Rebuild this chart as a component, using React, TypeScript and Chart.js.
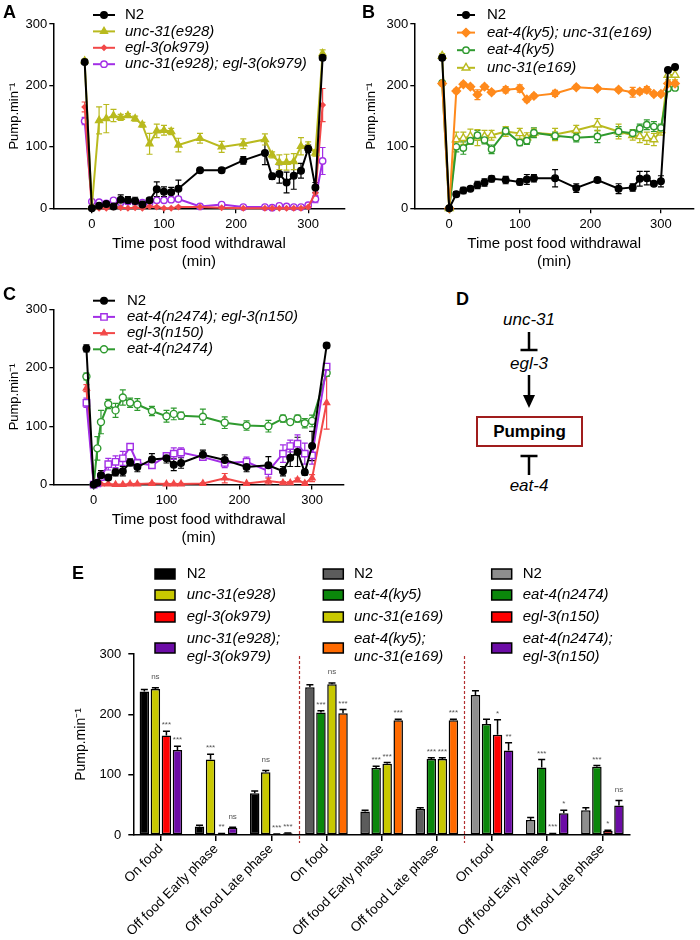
import React, { useEffect, useRef } from 'react';
import { Chart, registerables } from 'chart.js';

Chart.register(...registerables);

const FONT = "'Liberation Sans', Arial, Helvetica, sans-serif";
Chart.defaults.font.family = FONT;

// ---------------- Panel A ----------------
const timesA = [-10, 0, 10, 20, 30, 40, 50, 60, 70, 80, 90, 100, 110, 120, 150, 180, 210, 240, 250, 260, 270, 280, 290, 300, 310, 320];
const n2A = [238, 0, 4, 7, 3, 14, 13, 12, 6, 13, 31, 27, 26, 32, 62, 62, 78, 90, 52, 56, 42, 53, 61, 97, 34, 245];
const n2AErr = [3, 1, 2, 2, 2, 8, 6, 6, 3, 4, 12, 8, 8, 14, 3, 4, 6, 19, 5, 15, 17, 22, 12, 6, 8, 4];
const unc31A = [240, 3, 143, 146, 151, 148, 151, 146, 136, 105, 126, 127, 125, 103, 114, 100, 105, 112, 87, 75, 75, 76, 101, 101, 90, 252];
const unc31AErr = [3, 2, 22, 23, 10, 5, 3, 4, 4, 17, 11, 8, 5, 11, 8, 9, 8, 9, 5, 12, 13, 13, 14, 7, 5, 6];
const egl3A = [165, 0, 0, 0, 2, 1, 0, 1, 0, 3, 2, 0, 0, 2, 2, 1, 0, 0, 0, 0, 0, 0, 0, 2, 25, 168];
const egl3AErr = [8, 0, 0, 0, 1, 1, 0, 1, 0, 1, 1, 0, 0, 1, 1, 1, 0, 0, 0, 0, 0, 0, 0, 1, 6, 27];
const dblA = [142, 11, 10, 8, 13, 10, 11, 11, 9, 9, 13, 13, 14, 15, 3, 6, 2, 2, 1, 4, 3, 2, 2, 5, 15, 77];
const dblAErr = [6, 2, 2, 2, 2, 2, 2, 2, 2, 2, 2, 2, 2, 2, 1, 1, 1, 1, 1, 1, 1, 1, 1, 2, 6, 22];

// ---------------- Panel B ----------------
const timesB = [-10, 0, 10, 20, 30, 40, 50, 60, 80, 100, 110, 120, 150, 180, 210, 240, 260, 270, 280, 290, 300, 310, 320];
const n2B = [245, 0, 23, 29, 32, 38, 42, 48, 46, 43, 47, 49, 49, 33, 46, 32, 34, 48, 49, 40, 44, 225, 230];
const n2BErr = [4, 1, 4, 5, 3, 6, 6, 5, 6, 5, 8, 6, 14, 7, 4, 8, 6, 12, 11, 3, 9, 3, 3];
const dblB = [203, 0, 191, 202, 198, 185, 198, 189, 193, 195, 177, 183, 187, 197, 195, 193, 189, 190, 193, 186, 186, 203, 203];
const dblBErr = [3, 1, 3, 3, 3, 8, 3, 3, 5, 6, 4, 3, 5, 3, 3, 3, 8, 4, 5, 3, 3, 3, 3];
const eat4B = [204, 0, 100, 98, 110, 119, 111, 96, 126, 107, 110, 123, 118, 115, 117, 125, 122, 130, 136, 133, 131, 195, 196];
const eat4BErr = [3, 1, 8, 10, 6, 8, 6, 7, 6, 5, 6, 8, 6, 7, 10, 8, 6, 7, 8, 8, 6, 4, 4];
const unc31B = [248, 0, 112, 114, 117, 115, 117, 119, 125, 122, 115, 123, 120, 127, 136, 125, 119, 117, 114, 112, 127, 217, 217];
const unc31BErr = [4, 1, 12, 10, 12, 13, 10, 8, 8, 8, 8, 6, 10, 8, 10, 12, 8, 10, 10, 10, 8, 8, 8];

// ---------------- Panel C ----------------
const timesC = [-10, 0, 5, 10, 20, 30, 40, 50, 60, 80, 100, 110, 120, 150, 180, 210, 240, 260, 270, 280, 290, 300, 320];
const n2C = [233, 0, 3, 16, 12, 21, 23, 38, 30, 43, 45, 34, 37, 51, 42, 30, 33, 23, 46, 56, 21, 66, 238];
const n2CErr = [6, 1, 2, 8, 4, 6, 8, 6, 8, 10, 8, 10, 9, 8, 9, 8, 15, 8, 15, 25, 5, 25, 4];
const dblC = [140, 0, 2, 13, 35, 39, 45, 65, 37, 33, 49, 53, 55, 47, 37, 39, 23, 53, 66, 70, 53, 50, 202];
const dblCErr = [8, 1, 1, 5, 10, 10, 12, 5, 6, 5, 5, 10, 8, 5, 8, 8, 10, 15, 10, 15, 18, 15, 5];
const egl3C = [165, 0, 0, 1, 1, 0, 0, 1, 1, 2, 1, 1, 1, 2, 11, 2, 6, 3, 3, 8, 2, 11, 140];
const egl3CErr = [6, 0, 0, 1, 1, 0, 0, 1, 1, 1, 1, 1, 1, 1, 8, 1, 5, 2, 2, 3, 1, 6, 45];
const eat4C = [185, 0, 62, 107, 138, 127, 149, 140, 137, 126, 117, 121, 118, 116, 106, 101, 100, 113, 107, 113, 105, 109, 191];
const eat4CErr = [6, 1, 20, 20, 8, 12, 13, 8, 10, 8, 10, 10, 6, 13, 10, 8, 10, 6, 4, 6, 8, 10, 6];

const xTickValues = [0, 100, 200, 300];
const yTitle = 'Pump.min⁻¹';
const xTitle = ['Time post food withdrawal', '(min)'];

// ---------------- Panel E ----------------
const categoriesE = [
  'On food', 'Off food Early phase', 'Off food Late phase',
  'On food', 'Off food Early phase', 'Off food Late phase',
  'On food', 'Off food Early phase', 'Off food Late phase',
];
const e1Values = [238, 14, 69, 245, 39, 43, 232, 25, 41];
const e1Errors = [3, 2, 4, 4, 2, 2, 7, 4, 4];
const e1Sig = ['', '', '', '', '', '', '', '', ''];
const e2Values = [242, 125, 104, 203, 111, 126, 184, 112, 113];
const e2Errors = [2, 9, 3, 3, 3, 2, 8, 13, 2];
const e2Sig = ['ns', '***', 'ns', '***', '***', '***', '', '***', '***'];
const e3Values = [165, 2, 1, 250, 118, 126, 166, 2, 7];
const e3Errors = [7, 0.5, 0.5, 2, 2, 2, 25, 0.5, 1];
const e3Sig = ['***', '**', '***', 'ns', '***', '***', '*', '***', '*'];
const e4Values = [141, 12, 3, 202, 190, 190, 140, 36, 49];
const e4Errors = [6, 1, 0.5, 6, 2, 2, 13, 5, 8];
const e4Sig = ['***', 'ns', '***', '***', '***', '***', '**', '*', 'ns'];

const legendE1 = ['N2', 'unc-31(e928)', 'egl-3(ok979)', ['unc-31(e928);', 'egl-3(ok979)']];
const legendE2 = ['N2', 'eat-4(ky5)', 'unc-31(e169)', ['eat-4(ky5);', 'unc-31(e169)']];
const legendE3 = ['N2', 'eat-4(n2474)', 'egl-3(n150)', ['eat-4(n2474);', 'egl-3(n150)']];

// colours
const C_BLACK = '#000000';
const C_YEL = '#b9ba1e';
const C_RED = '#f24848';
const C_PUR = '#a22ee6';
const C_ORA = '#ff8a1c';
const C_GRN = '#2f9a2f';

const paletteE1 = ['#000000', '#c8c800', '#ff0000', '#6c0ca6'];
const paletteE2 = ['#5c5c5c', '#0b870b', '#c8c800', '#ff6a00'];
const paletteE3 = ['#8e8e8e', '#0b870b', '#ff0000', '#6c0ca6'];

// ---------------- helpers ----------------
function drawMarker(ctx: CanvasRenderingContext2D, style: string, x: number, y: number, r: number, fill: string, stroke: string, lw: number) {
  ctx.save();
  ctx.beginPath();
  if (style === 'circle') {
    ctx.arc(x, y, r, 0, Math.PI * 2);
  } else if (style === 'triangle') {
    ctx.moveTo(x, y - r);
    ctx.lineTo(x + 0.866 * r, y + 0.5 * r);
    ctx.lineTo(x - 0.866 * r, y + 0.5 * r);
    ctx.closePath();
  } else if (style === 'rectRot') {
    ctx.moveTo(x, y - r);
    ctx.lineTo(x + r, y);
    ctx.lineTo(x, y + r);
    ctx.lineTo(x - r, y);
    ctx.closePath();
  } else {
    const s = r * Math.SQRT1_2;
    ctx.rect(x - s, y - s, 2 * s, 2 * s);
  }
  ctx.fillStyle = fill;
  ctx.fill();
  ctx.strokeStyle = stroke;
  ctx.lineWidth = lw;
  ctx.stroke();
  ctx.restore();
}

const lineErrorBars = {
  id: 'lineErrorBars',
  beforeDatasetsDraw(chart: any) {
    const ctx = chart.ctx;
    const ys = chart.scales.y;
    chart.data.datasets.forEach((ds: any, di: number) => {
      const errs: number[] = ds.errors;
      if (!errs) return;
      const meta = chart.getDatasetMeta(di);
      ctx.save();
      ctx.strokeStyle = ds.borderColor;
      ctx.lineWidth = 1.2;
      meta.data.forEach((pt: any, i: number) => {
        const e = errs[i];
        if (!e) return;
        const v = ds.data[i].y;
        const yt = ys.getPixelForValue(v + e);
        const yb = ys.getPixelForValue(Math.max(0, v - e));
        ctx.beginPath();
        ctx.moveTo(pt.x, yt);
        ctx.lineTo(pt.x, yb);
        ctx.moveTo(pt.x - 3, yt);
        ctx.lineTo(pt.x + 3, yt);
        ctx.moveTo(pt.x - 3, yb);
        ctx.lineTo(pt.x + 3, yb);
        ctx.stroke();
      });
      ctx.restore();
    });
  },
};

type LegendPos = { x0: number; x1: number; tx: number; y0: number; rowH: number };

function makeSeriesLegend(pos: LegendPos) {
  return {
    id: 'seriesLegend',
    afterDraw(chart: any) {
      const ctx = chart.ctx;
      chart.data.datasets.forEach((ds: any, i: number) => {
        const y = pos.y0 + i * pos.rowH;
        ctx.save();
        ctx.strokeStyle = ds.borderColor;
        ctx.lineWidth = 2;
        ctx.beginPath();
        ctx.moveTo(pos.x0, y);
        ctx.lineTo(pos.x1, y);
        ctx.stroke();
        drawMarker(ctx, ds.pointStyle, (pos.x0 + pos.x1) / 2, y, ds.pointRadius, ds.pointBackgroundColor, ds.borderColor, ds.pointBorderWidth);
        ctx.fillStyle = '#000';
        ctx.font = `${ds.label === 'N2' ? '' : 'italic '}15px ${FONT}`;
        ctx.textBaseline = 'middle';
        ctx.textAlign = 'left';
        ctx.fillText(ds.label, pos.tx, y);
        ctx.restore();
      });
    },
  };
}

type SeriesDef = {
  label: string; times: number[]; values: number[]; errors: number[];
  color: string; point: string; radius: number; hollow: boolean;
};

type LineLayout = {
  xmin: number; xmax: number; top: number; right: number; yw: number; xh: number;
  xtPad: number; ytPad: number; legend: LegendPos;
};

function buildLineConfig(series: SeriesDef[], L: LineLayout): any {
  const tickFont = { family: FONT, size: 13 };
  return {
    type: 'line',
    data: {
      datasets: series.map((s) => ({
        label: s.label,
        data: s.times.map((t, i) => ({ x: t, y: s.values[i] })),
        errors: s.errors,
        borderColor: s.color,
        backgroundColor: s.color,
        pointBackgroundColor: s.hollow ? '#ffffff' : s.color,
        pointBorderColor: s.color,
        pointStyle: s.point,
        pointRadius: s.radius,
        pointBorderWidth: 1.4,
        borderWidth: 2,
        tension: 0,
        clip: false,
      })),
    },
    options: {
      animation: false,
      responsive: false,
      maintainAspectRatio: false,
      layout: { padding: { left: 0, top: L.top, right: L.right, bottom: 0 } },
      plugins: { legend: { display: false }, tooltip: { enabled: false } },
      scales: {
        x: {
          type: 'linear',
          min: L.xmin,
          max: L.xmax,
          afterBuildTicks: (s: any) => { s.ticks = xTickValues.map((v) => ({ value: v })); },
          afterFit: (s: any) => { s.height = L.xh; },
          grid: { drawOnChartArea: false, tickLength: 5, color: '#000', lineWidth: 1.3 },
          border: { color: '#000', width: 1.5 },
          ticks: { color: '#000', font: tickFont, padding: 3, maxRotation: 0 },
          title: { display: true, text: xTitle, color: '#000', font: { family: FONT, size: 15 }, padding: { top: 0, bottom: L.xtPad } },
        },
        y: {
          min: 0,
          max: 300,
          afterFit: (s: any) => { s.width = L.yw; },
          grid: { drawOnChartArea: false, tickLength: 4, color: '#000', lineWidth: 1.3 },
          border: { color: '#000', width: 1.5 },
          ticks: { stepSize: 100, color: '#000', font: tickFont, padding: 2 },
          title: { display: true, text: yTitle, color: '#000', font: { family: FONT, size: 13 }, padding: { top: L.ytPad, bottom: 0 } },
        },
      },
    },
    plugins: [lineErrorBars, makeSeriesLegend(L.legend)],
  };
}

function configA() {
  return buildLineConfig(
    [
      { label: 'N2', times: timesA, values: n2A, errors: n2AErr, color: C_BLACK, point: 'circle', radius: 3.3, hollow: false },
      { label: 'unc-31(e928)', times: timesA, values: unc31A, errors: unc31AErr, color: C_YEL, point: 'triangle', radius: 4, hollow: false },
      { label: 'egl-3(ok979)', times: timesA, values: egl3A, errors: egl3AErr, color: C_RED, point: 'rectRot', radius: 2.5, hollow: false },
      { label: 'unc-31(e928); egl-3(ok979)', times: timesA, values: dblA, errors: dblAErr, color: C_PUR, point: 'circle', radius: 3.2, hollow: true },
    ],
    { xmin: -53.5, xmax: 350.5, top: 24, right: 2, yw: 53.3, xh: 71.7, xtPad: 9, ytPad: 7,
      legend: { x0: 93, x1: 115, tx: 125, y0: 15, rowH: 16.4 } },
  );
}

function configB() {
  return buildLineConfig(
    [
      { label: 'N2', times: timesB, values: n2B, errors: n2BErr, color: C_BLACK, point: 'circle', radius: 3.3, hollow: false },
      { label: 'eat-4(ky5); unc-31(e169)', times: timesB, values: dblB, errors: dblBErr, color: C_ORA, point: 'rectRot', radius: 4.2, hollow: false },
      { label: 'eat-4(ky5)', times: timesB, values: eat4B, errors: eat4BErr, color: C_GRN, point: 'circle', radius: 3.2, hollow: true },
      { label: 'unc-31(e169)', times: timesB, values: unc31B, errors: unc31BErr, color: C_YEL, point: 'triangle', radius: 4.5, hollow: true },
    ],
    { xmin: -49.5, xmax: 347, top: 24, right: 5, yw: 64.3, xh: 71.7, xtPad: 9, ytPad: 14,
      legend: { x0: 107, x1: 125, tx: 137, y0: 15, rowH: 17.6 } },
  );
}

function configC() {
  return buildLineConfig(
    [
      { label: 'N2', times: timesC, values: n2C, errors: n2CErr, color: C_BLACK, point: 'circle', radius: 3.3, hollow: false },
      { label: 'eat-4(n2474); egl-3(n150)', times: timesC, values: dblC, errors: dblCErr, color: C_PUR, point: 'rect', radius: 4.5, hollow: true },
      { label: 'egl-3(n150)', times: timesC, values: egl3C, errors: egl3CErr, color: C_RED, point: 'triangle', radius: 3.5, hollow: false },
      { label: 'eat-4(n2474)', times: timesC, values: eat4C, errors: eat4CErr, color: C_GRN, point: 'circle', radius: 3.5, hollow: true },
    ],
    { xmin: -55.5, xmax: 344, top: 29.3, right: 2, yw: 53.3, xh: 75.4, xtPad: 13, ytPad: 7,
      legend: { x0: 93, x1: 115, tx: 127, y0: 20.7, rowH: 16.2 } },
  );
}

// ---------------- Panel E ----------------
const barErrorsAndSig = {
  id: 'barErrorsAndSig',
  afterDatasetsDraw(chart: any) {
    const ctx = chart.ctx;
    const ys = chart.scales.y;
    chart.data.datasets.forEach((ds: any, di: number) => {
      const meta = chart.getDatasetMeta(di);
      meta.data.forEach((bar: any, i: number) => {
        const v = ds.data[i];
        const e = ds.errors[i];
        const yTop = ys.getPixelForValue(v + e);
        ctx.save();
        ctx.strokeStyle = '#000';
        ctx.lineWidth = 1.5;
        ctx.beginPath();
        ctx.moveTo(bar.x, bar.y);
        ctx.lineTo(bar.x, yTop);
        ctx.moveTo(bar.x - 3.5, yTop);
        ctx.lineTo(bar.x + 3.5, yTop);
        ctx.stroke();
        const s = ds.sig[i];
        if (s) {
          ctx.fillStyle = '#555';
          ctx.font = `8px ${FONT}`;
          ctx.textAlign = 'center';
          ctx.textBaseline = 'alphabetic';
          const off = s.indexOf('*') >= 0 ? 4 : 8.5;
          ctx.fillText(s, bar.x, yTop - off);
        }
        ctx.restore();
      });
    });
  },
};

const groupSeparators = {
  id: 'groupSeparators',
  afterDraw(chart: any) {
    const ctx = chart.ctx;
    const xs = chart.scales.x;
    [2.5, 5.5].forEach((b) => {
      const x = Math.round(xs.getPixelForValue(b)) + 0.5;
      ctx.save();
      ctx.strokeStyle = '#b23030';
      ctx.lineWidth = 1.2;
      ctx.setLineDash([3, 2]);
      ctx.beginPath();
      ctx.moveTo(x, 96);
      ctx.lineTo(x, 283);
      ctx.stroke();
      ctx.restore();
    });
  },
};

const legendColumnsE = [
  { labels: legendE1, colors: paletteE1, sx: 155, tx: 186.7 },
  { labels: legendE2, colors: paletteE2, sx: 323.3, tx: 354 },
  { labels: legendE3, colors: paletteE3, sx: 491.7, tx: 522.7 },
];
const legendRowsE = [14, 35, 57, 88];

const barLegend = {
  id: 'barLegend',
  afterDraw(chart: any) {
    const ctx = chart.ctx;
    legendColumnsE.forEach((col) => {
      col.labels.forEach((lab: any, r: number) => {
        const y = legendRowsE[r];
        ctx.save();
        ctx.fillStyle = col.colors[r];
        ctx.fillRect(col.sx, y - 5, 20, 10);
        ctx.strokeStyle = '#000';
        ctx.lineWidth = 1.5;
        ctx.strokeRect(col.sx, y - 5, 20, 10);
        const lines: string[] = Array.isArray(lab) ? lab : [lab];
        ctx.fillStyle = '#000';
        ctx.textAlign = 'left';
        ctx.textBaseline = 'middle';
        lines.forEach((ln, k) => {
          ctx.font = `${ln === 'N2' ? '' : 'italic '}15px ${FONT}`;
          ctx.fillText(ln, col.tx, y + (k - (lines.length - 1) / 2) * 18);
        });
        ctx.restore();
      });
    });
  },
};

function expandColors(slot: number) {
  return [paletteE1, paletteE2, paletteE3].flatMap((p) => [p[slot], p[slot], p[slot]]);
}

function configE(): any {
  const slots = [
    { values: e1Values, errors: e1Errors, sig: e1Sig },
    { values: e2Values, errors: e2Errors, sig: e2Sig },
    { values: e3Values, errors: e3Errors, sig: e3Sig },
    { values: e4Values, errors: e4Errors, sig: e4Sig },
  ];
  return {
    type: 'bar',
    data: {
      labels: categoriesE,
      datasets: slots.map((s, k) => ({
        label: 'strain ' + (k + 1),
        data: s.values,
        errors: s.errors,
        sig: s.sig,
        backgroundColor: expandColors(k),
        borderColor: '#000',
        borderWidth: 1.5,
        borderSkipped: false,
        categoryPercentage: 0.8,
        barPercentage: 0.86,
      })),
    },
    options: {
      animation: false,
      responsive: false,
      maintainAspectRatio: false,
      layout: { padding: { left: 0, top: 94, right: 70, bottom: 0 } },
      plugins: { legend: { display: false }, tooltip: { enabled: false } },
      scales: {
        x: {
          afterFit: (s: any) => { s.height = 105; },
          grid: { offset: false, drawOnChartArea: false, tickLength: 6, color: '#000', lineWidth: 1.5 },
          border: { color: '#000', width: 1.5 },
          ticks: { color: '#000', font: { family: FONT, size: 13.5 }, padding: 0, minRotation: 45, maxRotation: 45, autoSkip: false },
        },
        y: {
          min: 0,
          max: 300,
          afterFit: (s: any) => { s.width = 133.3; },
          grid: { drawOnChartArea: false, tickLength: 5, color: '#000', lineWidth: 1.5 },
          border: { color: '#000', width: 1.5 },
          ticks: { stepSize: 100, color: '#000', font: { family: FONT, size: 13 }, padding: 7 },
          title: { display: true, text: yTitle, color: '#000', font: { family: FONT, size: 14 }, padding: { top: 73, bottom: 0 } },
        },
      },
    },
    plugins: [barErrorsAndSig, groupSeparators, barLegend],
  };
}

function ChartCanvas({ make, left, top, width, height }: { make: () => any; left: number; top: number; width: number; height: number }) {
  const ref = useRef<HTMLCanvasElement>(null);
  useEffect(() => {
    const chart = new Chart(ref.current as HTMLCanvasElement, make());
    return () => chart.destroy();
  }, []);
  return <canvas ref={ref} width={width} height={height} style={{ position: 'absolute', left, top, width, height }} />;
}

const panelLabel = (t: string, left: number, top: number) => (
  <div key={t} style={{ position: 'absolute', left, top, fontFamily: FONT, fontWeight: 'bold', fontSize: 18, lineHeight: '18px', color: '#000' }}>{t}</div>
);

function DiagramD() {
  const italic = { fontFamily: FONT, fontStyle: 'italic', fontSize: 17 } as any;
  return (
    <svg width={200} height={220} style={{ position: 'absolute', left: 420, top: 280 }}>
      <text x={109} y={39} textAnchor="middle" dominantBaseline="central" style={italic} fill="#000">unc-31</text>
      <line x1={109} y1={52} x2={109} y2={70} stroke="#000" strokeWidth={2.5} />
      <line x1={100.5} y1={70} x2={117.5} y2={70} stroke="#000" strokeWidth={2.5} />
      <text x={109} y={83} textAnchor="middle" dominantBaseline="central" style={italic} fill="#000">egl-3</text>
      <line x1={109} y1={95} x2={109} y2={117} stroke="#000" strokeWidth={2.5} />
      <polygon points="103,115 115,115 109,128" fill="#000" />
      <rect x={57} y={137} width={105} height={29} fill="#fff" stroke="#a01d1d" strokeWidth={2} />
      <text x={109.5} y={151.5} textAnchor="middle" dominantBaseline="central" style={{ fontFamily: FONT, fontWeight: 'bold', fontSize: 17 }} fill="#000">Pumping</text>
      <line x1={100.5} y1={176} x2={117.5} y2={176} stroke="#000" strokeWidth={2.5} />
      <line x1={109} y1={176} x2={109} y2={195} stroke="#000" strokeWidth={2.5} />
      <text x={109} y={205} textAnchor="middle" dominantBaseline="central" style={italic} fill="#000">eat-4</text>
    </svg>
  );
}

export default function App() {
  return (
    <div style={{ position: 'absolute', left: 0, top: 0, width: 700, height: 940, background: '#fff', overflow: 'hidden' }}>
      <ChartCanvas make={configA} left={0} top={0} width={350} height={280} />
      <ChartCanvas make={configB} left={350} top={0} width={350} height={280} />
      <ChartCanvas make={configC} left={0} top={280} width={350} height={280} />
      <ChartCanvas make={configE} left={0} top={560} width={700} height={380} />
      <DiagramD />
      {panelLabel('A', 3, 3)}
      {panelLabel('B', 362, 3)}
      {panelLabel('C', 3, 285)}
      {panelLabel('D', 456, 290)}
      {panelLabel('E', 72, 564)}
    </div>
  );
}
